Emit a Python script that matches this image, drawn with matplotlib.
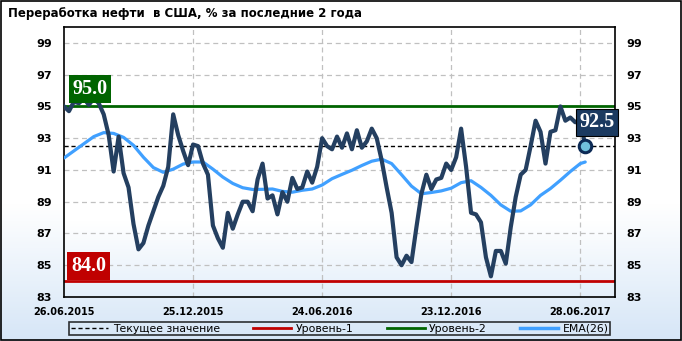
import numpy as np
import matplotlib
matplotlib.use('Agg')
import matplotlib.pyplot as plt
from matplotlib.lines import Line2D

# weekly refinery utilisation, %
util = [95.0, 94.7, 95.3, 95.2, 95.5, 95.1, 95.5, 95.2, 94.5, 93.2,
        90.9, 93.1, 90.8, 89.9, 87.6, 86.0, 86.4, 87.5, 88.4, 89.3,
        90.0, 91.2, 94.5, 93.2, 92.2, 91.3, 92.6, 92.5, 91.4, 90.7,
        87.5, 86.7, 86.1, 88.3, 87.3, 88.2, 89.0, 89.0, 88.4, 90.4,
        91.4, 89.2, 89.4, 88.2, 89.6, 89.0, 90.5, 89.8, 89.9, 90.9,
        90.2, 91.2, 93.0, 92.5, 92.3, 93.1, 92.4, 93.3, 92.3, 93.5,
        92.4, 92.8, 93.6, 93.0, 91.6, 89.9, 88.3, 85.5, 85.0, 85.6,
        85.2, 87.4, 89.5, 90.7, 89.8, 90.4, 90.5, 91.4, 91.0, 91.8,
        93.6, 91.2, 88.3, 88.2, 87.7, 85.5, 84.3, 85.9, 85.9, 85.1,
        87.4, 89.3, 90.7, 91.0, 92.5, 94.1, 93.4, 91.4, 93.4, 93.5,
        95.0, 94.1, 94.3, 94.0, 94.2, 92.5]

# EMA(26), read every second week + last week
ema_week = list(range(0, 105, 2)) + [105]
ema = [91.75, 92.2, 92.65, 93.1, 93.35, 93.3, 93.05, 92.55, 91.8, 91.15,
       90.85, 91.05, 91.37, 91.5, 91.5, 91.05, 90.55, 90.15, 89.88, 89.77,
       89.78, 89.8, 89.65, 89.6, 89.72, 89.8, 90.05, 90.45, 90.72, 90.98,
       91.28, 91.55, 91.68, 91.4, 90.7, 89.98, 89.5, 89.58, 89.68, 89.85,
       90.2, 90.32, 89.9, 89.4, 88.8, 88.4, 88.42, 88.8, 89.4, 89.83,
       90.35, 90.9, 91.4, 91.5]

tick_pos = [0, 26, 52, 78, 104]
tick_labels = ['26.06.2015', '25.12.2015', '24.06.2016', '23.12.2016', '28.06.2017']
current = 92.5
level1 = 84.0
level2 = 95.0

navy = '#243f60'
fig = plt.figure(figsize=(6.82, 3.41), dpi=100)

# background gradient over the whole figure
bg = fig.add_axes([0, 0, 1, 1], zorder=-10)
grad = np.linspace(0, 1, 256).reshape(-1, 1)
cm = matplotlib.colors.LinearSegmentedColormap.from_list(
    'bg', [(0, '#ffffff'), (0.6, '#ffffff'), (1, '#d6e6f7')])
bg.imshow(grad, aspect='auto', cmap=cm, extent=[0, 1, 0, 1], origin='upper')
bg.set_xlim(0, 1); bg.set_ylim(0, 1)
bg.axis('off')
fig.patches.append(plt.Rectangle((0.002, 0.004), 0.996, 0.992, transform=fig.transFigure,
                                 fill=False, edgecolor='black', linewidth=1.2))

ax = fig.add_axes([64/682, 44/341, 551/682, 270/341])
ax.set_xlim(0, 111)
ax.set_ylim(83, 100)
ax.patch.set_alpha(0)
ax.imshow(grad, aspect='auto', cmap=matplotlib.colors.LinearSegmentedColormap.from_list(
    'pa', [(0, '#ffffff'), (0.72, '#ffffff'), (1, '#e4effa')]),
    extent=[0, 111, 83, 100], origin='upper', zorder=0)

for y in range(85, 100, 2):
    ax.axhline(y, color='#c0c0c0', lw=0.9, ls=(0, (4, 3)), zorder=1)
for x in tick_pos[1:]:
    ax.axvline(x, color='#c0c0c0', lw=0.9, ls=(0, (4, 3)), zorder=1)

ax.axhline(level2, color='#006400', lw=2, zorder=2)
ax.axhline(level1, color='#c00000', lw=2, zorder=2)
ax.axhline(current, color='black', lw=1, ls=(0, (3, 2)), zorder=2)

weeks = np.arange(len(util))
ax.plot(ema_week, ema, color='#40a0ff', lw=2.3, zorder=3, solid_capstyle='round')
ax.plot(weeks, util, color=navy, lw=3, zorder=4, solid_joinstyle='round')
ax.plot(weeks[-1], util[-1], 'o', ms=9, mfc='#70c0dc', mec='#0c2a55', mew=2.2,
        zorder=5, clip_on=False)

ax.set_xticks(tick_pos)
ax.set_xticklabels(tick_labels, fontsize=7, fontweight='bold')
ax.set_yticks(range(83, 100, 2))
ax.tick_params(axis='both', length=0)
ax.tick_params(axis='y', labelsize=8, labelright=True, pad=8.5)
ax.tick_params(axis='x', pad=7)
for t in ax.yaxis.get_major_ticks():
    t.label1.set_fontweight('bold')
    t.label2.set_fontweight('bold')
for sp in ax.spines.values():
    sp.set_linewidth(1.2)

box = dict(boxstyle='square,pad=0.18', lw=0)
ax.text(1.7, 96.1, '%.1f' % level2, color='white', fontsize=14.5, fontweight='bold',
        family='Liberation Serif', va='center', ha='left',
        bbox=dict(box, facecolor='#006400'), zorder=6)
ax.text(1.4, 84.95, '%.1f' % level1, color='white', fontsize=14.5, fontweight='bold',
        family='Liberation Serif', va='center', ha='left',
        bbox=dict(box, facecolor='#c00000'), zorder=6)
ax.text(103.8, 94.0, '%.1f' % current, color='white', fontsize=14.5, fontweight='bold',
        family='Liberation Serif', va='center', ha='left',
        bbox=dict(boxstyle='square,pad=0.18', facecolor='#1b3a60', edgecolor='black', lw=0.8),
        zorder=7, clip_on=False)

fig.text(8/682, 1 - 14/341, 'Переработка нефти  в США, % за последние 2 года',
         fontsize=8.5, fontweight='bold', va='center', ha='left')

handles = [Line2D([], [], color='black', lw=1, ls=(0, (3, 2))),
           Line2D([], [], color='#c00000', lw=2),
           Line2D([], [], color='#006400', lw=2),
           Line2D([], [], color='#40a0ff', lw=2.5)]
labels = ['Текущее значение', 'Уровень-1', 'Уровень-2', 'EMA(26)']
leg = fig.legend(handles, labels, loc='center', ncol=4, fontsize=7.8,
                 bbox_to_anchor=(64/682, 1 - 336/341, 551/682, 15/341), mode='expand',
                 frameon=True, fancybox=False, borderpad=0.1, handlelength=3.5,
                 handletextpad=0.4, columnspacing=2)
leg.get_frame().set_edgecolor('black')
leg.get_frame().set_linewidth(1.2)
leg.get_frame().set_facecolor('none')

fig.savefig('out.png', dpi=100)
